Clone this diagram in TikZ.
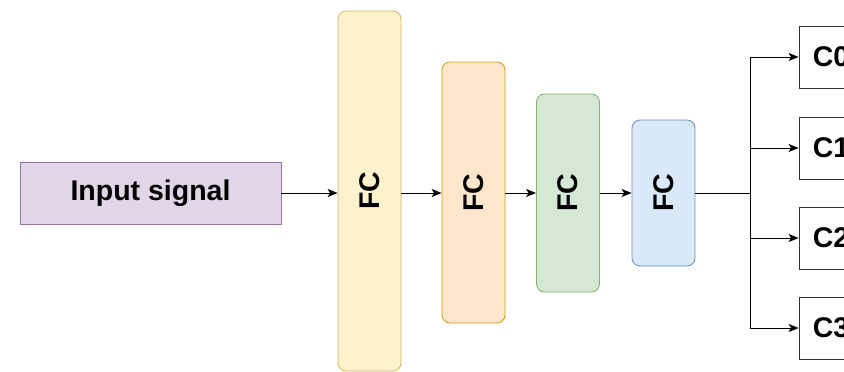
\documentclass[tikz,border=0pt]{standalone}
\usepackage{fontspec}
\setsansfont{Liberation Sans}
\usepackage{graphicx}
\usetikzlibrary{arrows.meta}

\definecolor{inFill}{HTML}{E1D5E7}\definecolor{inLine}{HTML}{9673A6}
\definecolor{yeFill}{HTML}{FFF2CC}\definecolor{yeLine}{HTML}{D6B656}
\definecolor{orFill}{HTML}{FFE6CC}\definecolor{orLine}{HTML}{D79B00}
\definecolor{grFill}{HTML}{D5E8D4}\definecolor{grLine}{HTML}{82B366}
\definecolor{blFill}{HTML}{DAE8FC}\definecolor{blLine}{HTML}{6C8EBF}

\begin{document}
\begin{tikzpicture}[x=1pt,y=-1pt,
  box/.style={draw, line width=0.8pt, inner sep=0pt,
    font=\sffamily\bfseries\fontsize{28.5}{32}\selectfont},
  fc/.style={box, rounded corners=8pt, minimum width=63pt},
  link/.style={line width=0.9pt, -{Stealth[length=10pt,width=8pt,inset=2.5pt]}}]
  \useasboundingbox (0,0) rectangle (844,372);
  % --- input block and the four fully connected layers, shrinking in height
  \node[box, fill=inFill, draw=inLine, minimum width=261pt, minimum height=62pt]
    (in) at (150.5,193) {Input signal};
  \node[fc, fill=yeFill, draw=yeLine, minimum height=360pt] (fc1) at (369.5,191) {\rotatebox{90}{FC}};
  \node[fc, fill=orFill, draw=orLine, minimum height=261pt] (fc2) at (473.5,192.5) {\rotatebox{90}{FC}};
  \node[fc, fill=grFill, draw=grLine, minimum height=198pt] (fc3) at (568,193) {\rotatebox{90}{FC}};
  \node[fc, fill=blFill, draw=blLine, minimum height=146pt] (fc4) at (663.5,193) {\rotatebox{90}{FC}};
  \draw[link] (in.east) -- (in.east -| fc1.west);
  \draw[link] (fc1.east |- in.east) -- (fc1.east |- in.east -| fc2.west);
  \draw[link] (fc2.east |- in.east) -- (fc2.east |- in.east -| fc3.west);
  \draw[link] (fc3.east |- in.east) -- (fc3.east |- in.east -| fc4.west);
  % --- class outputs, fed from one split point
  \coordinate (split) at (750,193);
  \draw[line width=0.9pt] (fc4.east |- split) -- (split);
  \foreach \i/\y in {0/57,1/148,2/238,3/328}{
    \node[box, draw=black!80, minimum width=64pt, minimum height=62pt] (c\i) at (831,\y) {C\i};
    \draw[link] (split |- c\i) -- (c\i.west);}
  \draw[line width=0.9pt] (split |- c0) -- (split |- c3);
\end{tikzpicture}
\end{document}
